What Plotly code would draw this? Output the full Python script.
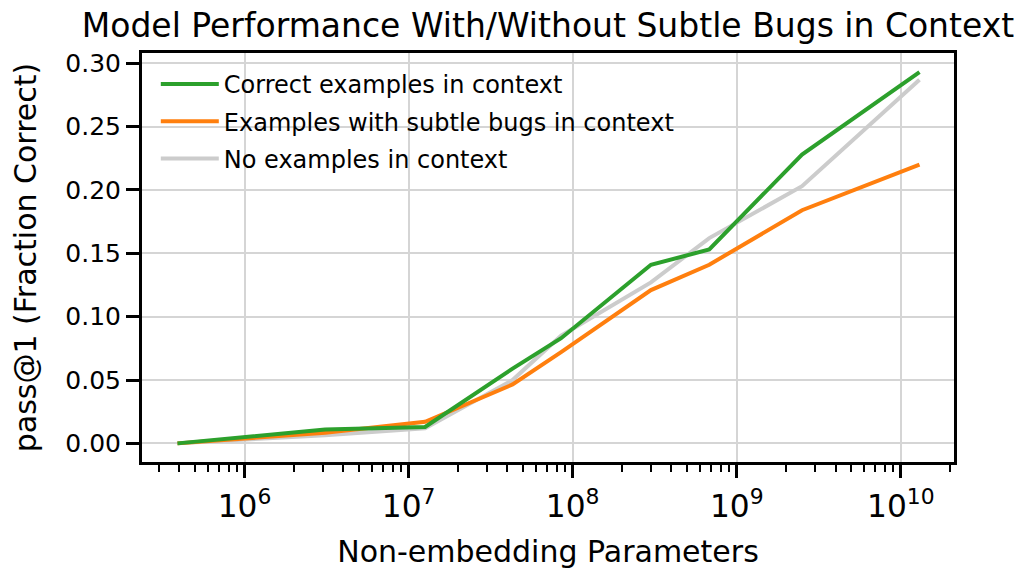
import numpy as np
import plotly.graph_objects as go

# Model sizes (non-embedding parameters) and pass@1 for each prompt setting
params = [3.9e5, 3.1e6, 1.26e7, 4.3e7, 8.5e7, 3.0e8, 6.8e8, 2.5e9, 1.3e10]
correct = [0.0, 0.011, 0.013, 0.059, 0.083, 0.141, 0.153, 0.228, 0.293]
buggy = [0.0, 0.0084, 0.017, 0.0465, 0.072, 0.121, 0.141, 0.184, 0.220]
no_examples = [0.0, 0.0065, 0.012, 0.050, 0.085, 0.127, 0.162, 0.203, 0.287]

series = [
    ("Correct examples in context", correct, "#2ca02c"),
    ("Examples with subtle bugs in context", buggy, "#ff7f0e"),
    ("No examples in context", no_examples, "#cccccc"),
]

FONT = "DejaVu Sans"

fig = go.Figure()
# draw gray first so it sits underneath, but keep legend order
for i, (name, vals, color) in reversed(list(enumerate(series))):
    fig.add_trace(go.Scatter(
        x=params, y=vals, mode="lines", name=name,
        line=dict(color=color, width=4),
        legendgroup=name, legendrank=i + 1,
    ))

# the page body adds an 8px margin top/left, so shrink the figure to match
fig.update_layout(
    width=1014, height=561,
    margin=dict(l=134, r=68, t=45, b=107),
    paper_bgcolor="white", plot_bgcolor="white",
    font=dict(family=FONT, size=25, color="black"),
    title=dict(
        text="Model Performance With/Without Subtle Bugs in Context",
        font=dict(size=33), x=0.5325, xanchor="center", y=0.99, yanchor="top",
    ),
    legend=dict(
        x=0.017, y=0.978, xanchor="left", yanchor="top",
        bgcolor="rgba(0,0,0,0)", font=dict(size=24),
        traceorder="grouped", tracegroupgap=3, itemwidth=58,
    ),
    showlegend=True,
)

fig.update_xaxes(
    type="log", range=[np.log10(2.37e5), np.log10(2.11e10)],
    dtick=1, exponentformat="power", automargin=False,
    showline=True, mirror=True, linecolor="black", linewidth=3,
    ticks="outside", ticklen=13, tickwidth=3, tickcolor="black",
    ticklabelstandoff=3,
    showgrid=True, gridcolor="#d5d5d5", gridwidth=2,
    minor=dict(dtick="D1", ticks="outside", ticklen=7, tickwidth=2,
               tickcolor="black", showgrid=False),
    title=dict(text="Non-embedding Parameters", standoff=24),
    zeroline=False,
)
fig.update_yaxes(
    range=[-0.0147, 0.3081], dtick=0.05, tick0=0, tickformat=".2f",
    automargin=False,
    showline=True, mirror=True, linecolor="black", linewidth=3,
    ticks="outside", ticklen=13, tickwidth=3, tickcolor="black",
    showgrid=True, gridcolor="#d5d5d5", gridwidth=2,
    title=dict(text="pass@1 (Fraction Correct)", standoff=50),
    zeroline=False,
)

fig.write_html("out.html")
